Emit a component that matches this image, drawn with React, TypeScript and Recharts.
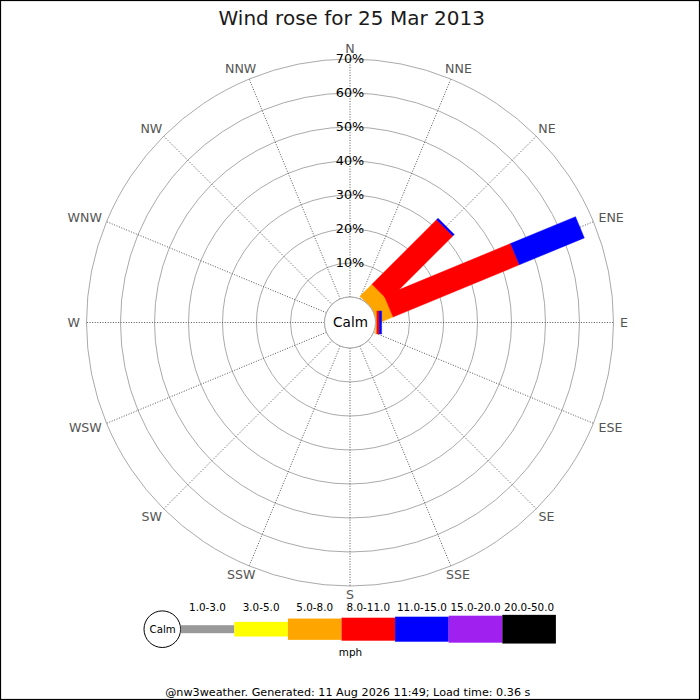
import React from 'react';
import { RadialBarChart, RadialBar, PolarGrid, PolarAngleAxis, PolarRadiusAxis } from 'recharts';

// ---- data ----
const DIRECTIONS = ['N', 'NNE', 'NE', 'ENE', 'E', 'ESE', 'SE', 'SSE', 'S', 'SSW', 'SW', 'WSW', 'W', 'WNW', 'NW', 'NNW'];
const SPEED_BINS = ['1.0-3.0', '3.0-5.0', '5.0-8.0', '8.0-11.0', '11.0-15.0', '15.0-20.0', '20.0-50.0'];
// percent of the day per direction, one array per speed bin (mph)
const PCT_1_3 = [0, 0, 0, 0, 0, 0, 0, 0, 0, 0, 0, 0, 0, 0, 0, 0];
const PCT_3_5 = [0, 0, 0, 0, 0, 0, 0, 0, 0, 0, 0, 0, 0, 0, 0, 0];
const PCT_5_8 = [0, 0, 5.0, 4.8, 0.4, 0, 0, 0, 0, 0, 0, 0, 0, 0, 0, 0];
const PCT_8_11 = [0, 0, 26.9, 40.2, 0.7, 0, 0, 0, 0, 0, 0, 0, 0, 0, 0, 0];
const PCT_11_15 = [0, 0, 0.6, 20.7, 0.7, 0, 0, 0, 0, 0, 0, 0, 0, 0, 0, 0];
const PCT_15_20 = [0, 0, 0, 0, 0, 0, 0, 0, 0, 0, 0, 0, 0, 0, 0, 0];
const PCT_20_50 = [0, 0, 0, 0, 0, 0, 0, 0, 0, 0, 0, 0, 0, 0, 0, 0];
const RADIUS_TICKS = [0, 10, 20, 30, 40, 50, 60, 70];
const TITLE = 'Wind rose for 25 Mar 2013';
const FOOTER = '@nw3weather. Generated: 11 Aug 2026 11:49; Load time: 0.36 s';
const CALM_LABEL = 'Calm';
const UNIT_LABEL = 'mph';

// ---- styles ----
const BIN_COLORS = ['#999999', '#ffff00', '#ffa500', '#ff0000', '#0000ff', '#a020f0', '#000000'];
const LEGEND_HEIGHTS = [8, 14.6, 21.3, 23, 25, 27, 28.7];
const FONT = '"DejaVu Sans", Verdana, sans-serif';

const SERIES = [PCT_1_3, PCT_3_5, PCT_5_8, PCT_8_11, PCT_11_15, PCT_15_20, PCT_20_50];
const rows = DIRECTIONS.map((dir, i) => {
  const row: Record<string, number | string> = { dir };
  SERIES.forEach((s, k) => {
    row['b' + k] = s[i];
  });
  return row;
});

const CX = 350;
const CY = 322.5;
const INNER_R = 25.5;
const OUTER_R = 263.5;
const HALF_W = 11.5;

// The angle band of each category starts at the category's tick angle (its compass
// direction); with no category gap the sector's startAngle is that direction.
function RoseBar(props: any) {
  const { cx, cy, innerRadius, outerRadius, startAngle, fill } = props;
  if (!(outerRadius - innerRadius > 0.01)) return <g />;
  const a = (startAngle * Math.PI) / 180;
  const ux = Math.cos(a);
  const uy = -Math.sin(a);
  const nx = -uy;
  const ny = ux;
  const p = (r: number, s: number) => `${cx + ux * r + nx * s * HALF_W},${cy + uy * r + ny * s * HALF_W}`;
  return (
    <polygon
      points={[p(innerRadius, 1), p(outerRadius, 1), p(outerRadius, -1), p(innerRadius, -1)].join(' ')}
      fill={fill}
      stroke={fill}
      strokeWidth={0.4}
    />
  );
}

const GLYPH_W: Record<string, number> = { N: 0.748, E: 0.632, S: 0.635, W: 0.989 };
const COMPASS_FONT = 12.6;

function CompassTick(props: any) {
  const { payload } = props;
  const cx = props.cx ?? CX;
  const cy = props.cy ?? CY;
  const radius = (props.radius ?? OUTER_R) + 6.5;
  const deg = payload.coordinate;
  const a = (deg * Math.PI) / 180;
  const px = cx + radius * Math.cos(a);
  const py = cy - radius * Math.sin(a);
  const label = String(payload.value);
  const w = label.split('').reduce((s, c) => s + (GLYPH_W[c] || 0.7), 0) * COMPASS_FONT;
  const h = COMPASS_FONT * 0.73;
  const s = Math.sin(a);
  const south = s < 0 ? Math.pow(-s, 4) : 0;
  const lx = px + (Math.cos(a) * w) / 2;
  const ly = py - (s * h) / 2 - south * 2.2;
  return (
    <text x={lx} y={ly + h / 2} textAnchor="middle" fontSize={COMPASS_FONT} fill="#555555" fontFamily={FONT}>
      {label}
    </text>
  );
}

function PctTick(props: any) {
  const { x, y, payload } = props;
  if (payload.value === 0) return <g />;
  return (
    <text x={x} y={y + 4.4} textAnchor="middle" fontSize={12.8} fill="#000000" fontFamily={FONT}>
      {payload.value}%
    </text>
  );
}

function Overlay() {
  const x0 = 180.7;
  const bw = 53.6;
  const ly = 629.2;
  return (
    <svg
      width={700}
      height={700}
      style={{ position: 'absolute', left: 0, top: 0, pointerEvents: 'none' }}
    >
      <rect x={0.5} y={0.5} width={699} height={699} fill="none" stroke="#000" strokeWidth={1.2} />
      <text x={351.7} y={25} textAnchor="middle" fontSize={20} fill="#1a1a1a" fontFamily={FONT}>
        {TITLE}
      </text>
      <circle cx={CX} cy={CY} r={INNER_R} fill="#ffffff" stroke="#aaaaaa" strokeWidth={1} />
      <text x={350.5} y={326.6} textAnchor="middle" fontSize={13.6} fill="#000" fontFamily={FONT}>
        {CALM_LABEL}
      </text>
      {/* legend */}
      <circle cx={162.3} cy={ly} r={18.3} fill="#fff" stroke="#000" strokeWidth={1} />
      <text x={162.6} y={632.8} textAnchor="middle" fontSize={10.2} fill="#000" fontFamily={FONT}>
        {CALM_LABEL}
      </text>
      {SPEED_BINS.map((lab, k) => (
        <g key={lab}>
          <rect
            x={x0 + k * bw}
            y={ly - LEGEND_HEIGHTS[k] / 2}
            width={bw}
            height={LEGEND_HEIGHTS[k]}
            fill={BIN_COLORS[k]}
          />
          <text
            x={x0 + k * bw + bw / 2}
            y={610.6}
            textAnchor="middle"
            fontSize={10.4}
            fill="#000"
            fontFamily={FONT}
          >
            {lab}
          </text>
        </g>
      ))}
      <text x={350.5} y={656} textAnchor="middle" fontSize={10.4} fill="#000" fontFamily={FONT}>
        {UNIT_LABEL}
      </text>
      <text x={347.8} y={695.6} textAnchor="middle" fontSize={11.2} fill="#000" fontFamily={FONT}>
        {FOOTER}
      </text>
    </svg>
  );
}

export default function App() {
  return (
    <div style={{ position: 'relative', width: 700, height: 700, background: '#fff' }}>
      <style>{`body{margin:0;background:#fff;}`}</style>
      <RadialBarChart
        width={700}
        height={700}
        data={rows}
        layout="centric"
        cx={CX}
        cy={CY}
        innerRadius={INNER_R}
        outerRadius={OUTER_R}
        startAngle={90}
        endAngle={-270}
        margin={{ top: 0, right: 0, bottom: 0, left: 0 }}
        barCategoryGap={0}
      >
        <PolarGrid gridType="circle" radialLines={false} stroke="#aaaaaa" strokeWidth={1} />
        <PolarGrid
          gridType="circle"
          polarRadius={[0]}
          radialLines={true}
          stroke="#555555"
          strokeWidth={1}
          strokeDasharray="1 1.6"
        />
        <PolarAngleAxis
          dataKey="dir"
          type="category"
          axisLine={false}
          tickLine={false}
          tick={CompassTick}
        />
        <PolarRadiusAxis
          type="number"
          angle={90}
          domain={[0, 70]}
          ticks={RADIUS_TICKS}
          tickCount={8}
          axisLine={false}
          tickLine={false}
          tick={PctTick}
        />
        {SPEED_BINS.map((lab, k) => (
          <RadialBar
            key={lab}
            dataKey={'b' + k}
            name={lab}
            stackId="rose"
            fill={BIN_COLORS[k]}
            shape={RoseBar}
            isAnimationActive={false}
          />
        ))}
      </RadialBarChart>
      <Overlay />
    </div>
  );
}
